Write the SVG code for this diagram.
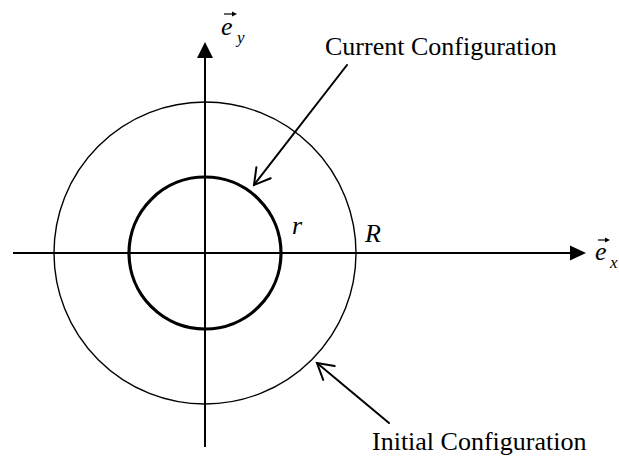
<svg xmlns="http://www.w3.org/2000/svg" width="619" height="456" viewBox="0 0 619 456">
<style>
.t{font-family:"Liberation Serif","Times New Roman",serif;font-size:26px;fill:#000}
.i{font-style:italic}
.s{font-size:17px}
.ax{stroke:#000;stroke-width:2;fill:none}
.ptr{stroke:#000;stroke-width:2;fill:none;stroke-linecap:round}
.vec{stroke:#000;stroke-width:1.2;fill:none}
</style>
<rect width="619" height="456" fill="#fff"/>
<g id="circles">
<circle id="initial" cx="205" cy="253" r="151" fill="none" stroke="#000" stroke-width="1.4"/>
<circle id="current" cx="205" cy="253" r="76" fill="none" stroke="#000" stroke-width="3.2"/>
</g>
<g id="connectors">
<line class="ax" x1="13" y1="253" x2="572" y2="253"/>
<polygon points="586,253 570,245.5 570,260.5" fill="#000"/>
<line class="ax" x1="205" y1="447" x2="205" y2="55"/>
<polygon points="205,42 197,58 213,58" fill="#000"/>
<line class="ptr" x1="347" y1="65" x2="254" y2="185"/>
<polyline class="ptr" points="256.4,167.2 254,185 270.7,178.2"/>
<line class="ptr" x1="389" y1="423" x2="317" y2="363"/>
<polyline class="ptr" points="323.2,379.9 317,363 334.7,366.1"/>
</g>
<g id="ey-label">
<text class="t i" x="221" y="35">e</text>
<text class="t i s" x="237" y="43">y</text>
<line class="vec" x1="224" y1="14" x2="233" y2="14"/>
<polygon points="237,14 232,11.5 232,16.5" fill="#000"/>
</g>
<g id="ex-label">
<text class="t i" x="595" y="260">e</text>
<text class="t i s" x="610" y="268">x</text>
<line class="vec" x1="598" y1="240" x2="606" y2="240"/>
<polygon points="610,240 605,237.5 605,242.5" fill="#000"/>
</g>
<g id="label-current"><text class="t" x="325" y="55">Current Configuration</text></g>
<g id="label-initial"><text class="t" x="372" y="450">Initial Configuration</text></g>
<g id="label-r"><text class="t i" x="292" y="234">r</text></g>
<g id="label-R"><text class="t i" x="365" y="242">R</text></g>
</svg>
